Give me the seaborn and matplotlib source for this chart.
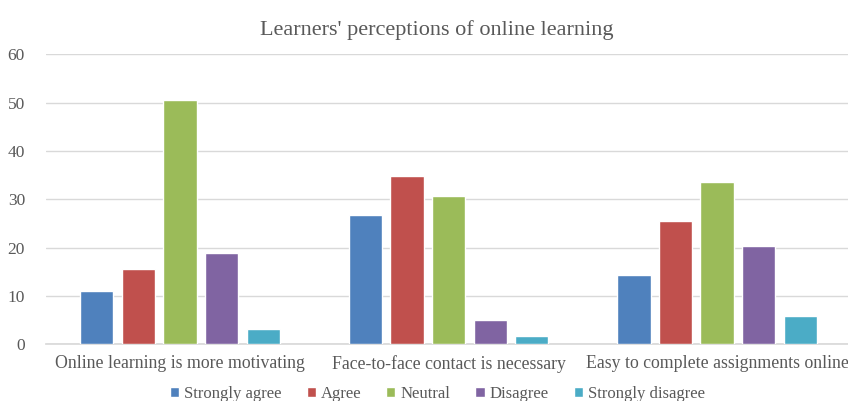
import pandas as pd
import matplotlib.pyplot as plt
import seaborn as sns

# ── DATA ──────────────────────────────────────────────────────────────────────
statements = ["Online learning is more motivating",
              "Face-to-face contact is necessary",
              "Easy to complete assignments online"]
responses = ["Strongly agree", "Agree", "Neutral", "Disagree", "Strongly disagree"]
strongly_agree = [11.0, 26.8, 14.3]
agree = [15.6, 34.8, 25.5]
neutral = [50.6, 30.7, 33.5]
disagree = [18.9, 5.1, 20.3]
strongly_disagree = [3.2, 1.8, 5.8]
yticks = [0, 10, 20, 30, 40, 50, 60]

COLORS = ["#4F81BD", "#C0504D", "#9BBB59", "#8064A2", "#4BACC6"]
SERIF = ["Liberation Serif", "DejaVu Serif"]

rows = []
for resp, vals in zip(responses, [strongly_agree, agree, neutral, disagree, strongly_disagree]):
    for st, v in zip(statements, vals):
        rows.append({"Statement": st, "Response": resp, "Value": v})
df = pd.DataFrame(rows)

# ── PLOT ──────────────────────────────────────────────────────────────────────
sns.set_theme(style="white")
plt.rcParams["font.family"] = SERIF

fig = plt.figure(figsize=(8.48, 4.01), dpi=100)
ax = fig.add_axes([0.054, 0.1414, 0.95, 0.7232])

sns.barplot(data=df, x="Statement", y="Value", hue="Response", order=statements,
            hue_order=responses, palette=COLORS, width=0.775, gap=0.2,
            saturation=1, ax=ax, zorder=3)

ax.set_ylim(0, 60)
ax.set_yticks(yticks)
ax.set_xlim(-0.5, 2.5)
ax.yaxis.grid(True, color="#D9D9D9", linewidth=1, zorder=0)
ax.set_axisbelow(True)
for s in ["top", "right", "left"]:
    ax.spines[s].set_visible(False)
ax.spines["bottom"].set_color("#D9D9D9")
ax.set_xlabel("")
ax.set_ylabel("")
ax.tick_params(axis="both", length=0, colors="#595959")
ax.tick_params(axis="y", pad=15, labelsize=12.5)
ax.tick_params(axis="x", pad=8, labelsize=12.8)

ax.set_title("Learners' perceptions of online learning", fontsize=16,
             color="#595959", pad=14, x=0.485)

handles, labels = ax.get_legend_handles_labels()
leg = ax.legend(handles, labels, loc="center", bbox_to_anchor=(0.486, -0.172),
                ncol=5, frameon=False, fontsize=12,
                handlelength=0.55, handleheight=0.55,
                handletextpad=0.3, columnspacing=1.5, labelcolor="#595959",
                borderpad=0.1)
for t in leg.get_texts():
    t.set_fontfamily(SERIF)

plt.savefig("out.png", dpi=100)
plt.close()
